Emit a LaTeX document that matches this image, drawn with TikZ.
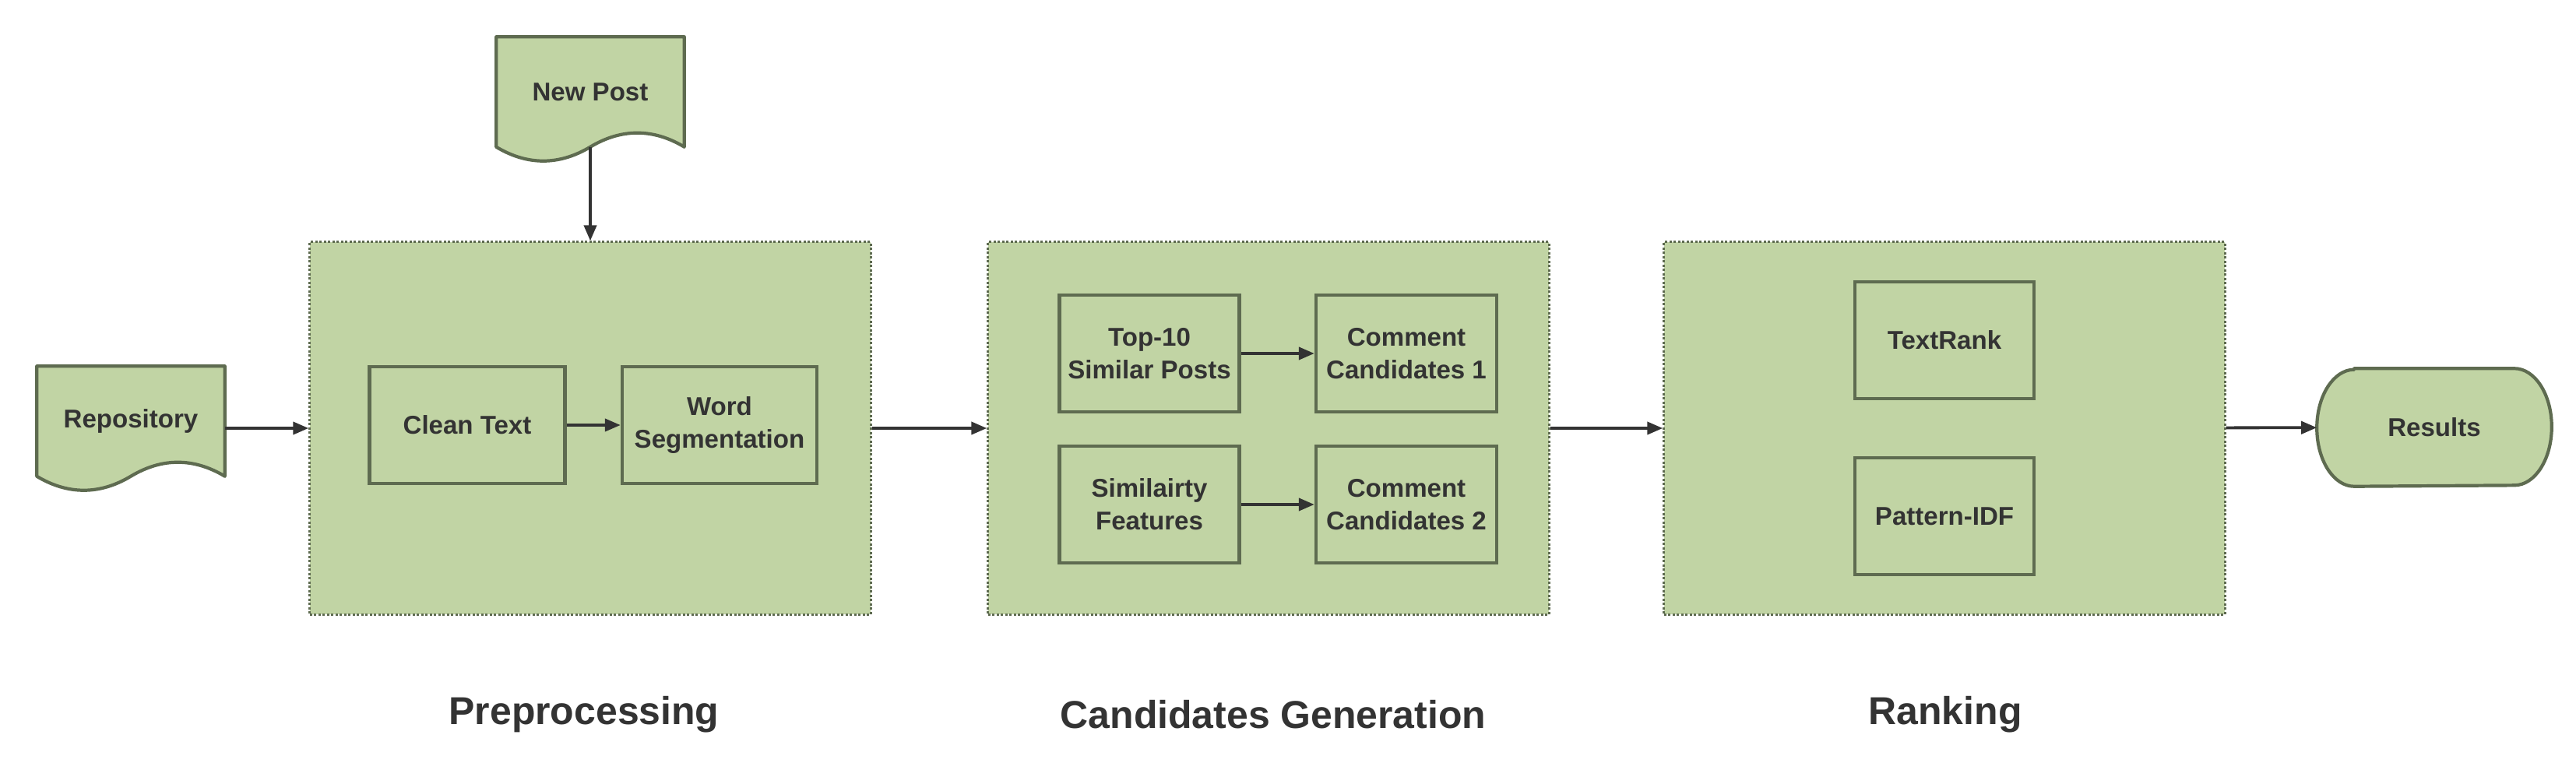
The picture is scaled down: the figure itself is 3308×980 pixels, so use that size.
\documentclass[tikz,border=0pt]{standalone}
\usepackage{fontspec}
\setmainfont{Liberation Sans}
\usetikzlibrary{arrows.meta,calc,backgrounds}
\definecolor{gfill}{RGB}{193,212,164}
\definecolor{gline}{RGB}{94,107,80}
\definecolor{tgray}{RGB}{51,51,51}
\begin{document}
\begin{tikzpicture}[x=0.01cm,y=-0.01cm,
  txt/.style={text=tgray,font=\fontsize{9.4}{12}\selectfont\bfseries,align=center},
  box/.style={txt,draw=gline,fill=gfill,line width=0.042cm,inner sep=0pt,minimum height=1.5cm},
  group/.style={draw=gline,fill=gfill,line width=0.03cm,dash pattern=on 0.03cm off 0.025cm,minimum width=7.2cm,minimum height=4.78cm,inner sep=0pt},
  docnode/.style={txt,minimum width=2.4cm,minimum height=1.4cm,inner sep=0pt},
  shapeline/.style={draw=gline,fill=gfill,line width=0.042cm,line join=round},
  arr/.style={draw=tgray,line width=0.038cm,-{Triangle[length=0.2cm,width=0.16cm]}},
  title/.style={text=tgray,font=\fontsize{14.2}{17}\selectfont\bfseries}]
\useasboundingbox (0,0) rectangle (3308,980);

% groups
\node[group] (prep) at (758,550) {};
\node[group] (cand) at (1629,550) {};
\node[group] (rank) at (2497,550) {};

% document / terminator nodes
\node[docnode] (repo) at (168,541) {Repository};
\node[docnode] (post) at (758,118) {New Post};
\node[txt,minimum width=3cm,minimum height=1.5cm,inner sep=0pt] (res) at (3126,549) {Results};

\begin{scope}[on background layer]
\draw[shapeline] (repo.north west) -- (repo.north east) -- (repo.south east)
  .. controls ($(repo.south east)+(-0.4cm,0.24cm)$) and ($(repo.south)+(0.4cm,0.24cm)$) .. (repo.south)
  .. controls ($(repo.south)+(-0.4cm,-0.24cm)$) and ($(repo.south west)+(0.4cm,-0.24cm)$) .. (repo.south west) -- cycle;
\draw[shapeline] (post.north west) -- (post.north east) -- (post.south east)
  .. controls ($(post.south east)+(-0.4cm,0.24cm)$) and ($(post.south)+(0.4cm,0.24cm)$) .. (post.south)
  .. controls ($(post.south)+(-0.4cm,-0.24cm)$) and ($(post.south west)+(0.4cm,-0.24cm)$) .. (post.south west) -- cycle;
\draw[shapeline] ($(res.north west)+(0.48cm,0)$) -- ($(res.north east)+(-0.48cm,0)$)
  arc[start angle=90,end angle=-90,x radius=0.48cm,y radius=0.75cm]
  -- ($(res.south west)+(0.48cm,0)$)
  arc[start angle=270,end angle=90,x radius=0.48cm,y radius=0.75cm] -- cycle;
\end{scope}

% inner boxes
\node[box,minimum width=2.51cm] (clean) at (600,546) {Clean Text};
\node[box,minimum width=2.5cm] (word) at (924,546) {Word\\Segmentation};
\node[box,minimum width=2.31cm] (top) at (1476,454) {Top-10\\Similar Posts};
\node[box,minimum width=2.32cm] (c1) at (1806,454) {Comment\\Candidates 1};
\node[box,minimum width=2.31cm] (sim) at (1476,648) {Similairty\\Features};
\node[box,minimum width=2.32cm] (c2) at (1806,648) {Comment\\Candidates 2};
\node[box,minimum width=2.3cm] (tr) at (2497,437) {TextRank};
\node[box,minimum width=2.3cm] (pidf) at (2497,663) {Pattern-IDF};

% titles
\node[title] (l1) at (750,918) {Preprocessing};
\node[title] (l2) at (1635,918) {Candidates Generation};
\node[title] (l3) at (2498,918) {Ranking};

% arrows
\draw[arr] (post.south) -- (prep.north);
\draw[arr] (repo.east |- prep.west) -- (prep.west);
\draw[arr] (clean) -- (word);
\draw[arr] (prep) -- (cand);
\draw[arr] (top) -- (c1);
\draw[arr] (sim) -- (c2);
\draw[arr] (cand) -- (rank);
\draw[arr] (rank) -- (res);
\end{tikzpicture}
\end{document}
